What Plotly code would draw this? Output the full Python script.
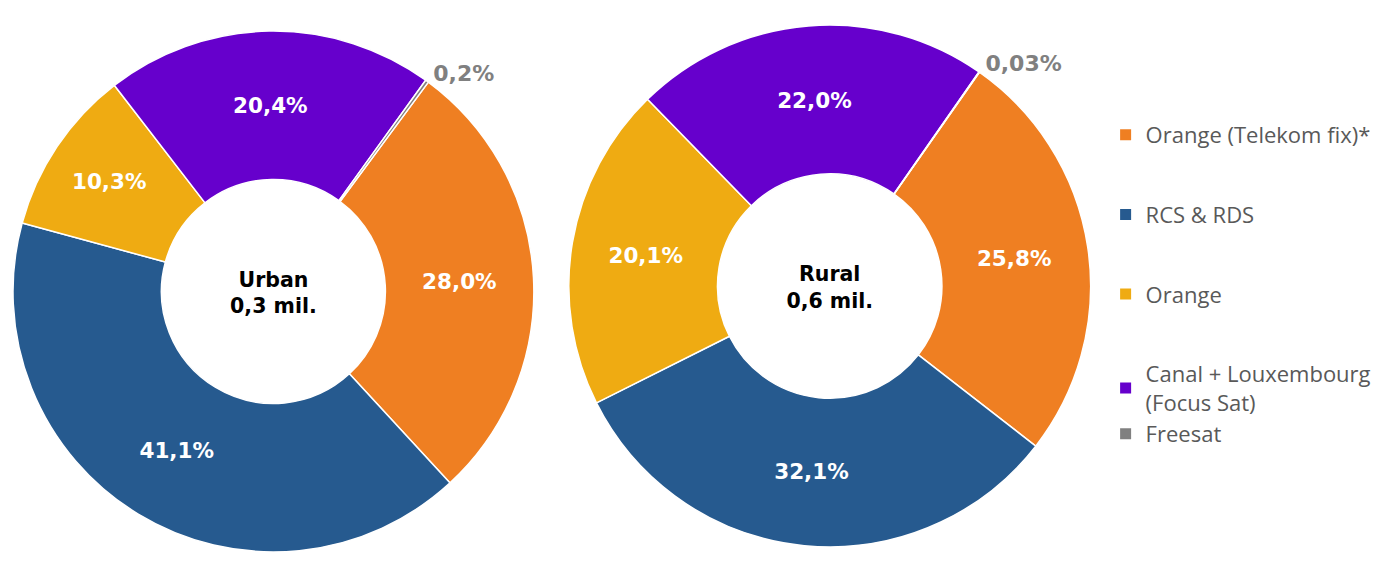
import plotly.graph_objects as go

labels = ["Orange (Telekom fix)*", "RCS & RDS", "Orange", "Canal + Louxembourg<br>(Focus Sat)", "Freesat"]
colors = ["#EF7F22", "#265A8F", "#EFAB12", "#6600CC", "#808080"]
urban_values = [28.0, 41.1, 10.3, 20.4, 0.2]
urban_text = ["28,0%", "41,1%", "10,3%", "20,4%", "0,2%"]
rural_values = [25.8, 32.1, 20.1, 22.0, 0.03]
rural_text = ["25,8%", "32,1%", "20,1%", "22,0%", "0,03%"]
urban_title = "Urban<br>0,3 mil."
rural_title = "Rural<br>0,6 mil."
legend_groups = ["g1", "g2", "g3", "g4", "g4"]

W, H = 1380, 564
fig = go.Figure()

positions = ["inside", "inside", "inside", "inside", "outside"]

def add_pie(values, text, title, domain, rotation):
    fig.add_trace(go.Pie(
        labels=labels, values=values, text=text,
        texttemplate="%{text}", textinfo="text",
        textposition=positions,
        insidetextorientation="horizontal",
        insidetextfont=dict(family="DejaVu Sans", size=21.5, color="white", weight="bold"),
        outsidetextfont=dict(family="DejaVu Sans", size=22, color="#808080", weight="bold"),
        marker=dict(colors=colors, line=dict(color="white", width=1.5)),
        hole=0.43, sort=False, direction="clockwise", rotation=rotation,
        domain=domain, showlegend=False,
        title=dict(text=title, position="middle center",
                   font=dict(family="DejaVu Sans", size=20.5, color="black", weight="bold")),
        hoverinfo="label+text",
    ))

dx, dy = 8, 8
add_pie(urban_values, urban_text, urban_title,
        dict(x=[(10 - dx) / W, (532 - dx) / W], y=[(H - 553 + dy) / H, (H - 30 + dy) / H]), 36.5)
add_pie(rural_values, rural_text, rural_title,
        dict(x=[(567 - dx) / W, (1090 - dx) / W], y=[(H - 550 + dy) / H, (H - 22 + dy) / H]), 35)

# legend entries
for lab, col, grp in zip(labels, colors, legend_groups):
    fig.add_trace(go.Scatter(
        x=[None], y=[None], mode="markers", name=lab, legendgroup=grp,
        marker=dict(symbol="square", size=11, color=col),
        showlegend=True, hoverinfo="skip",
    ))

fig.update_layout(
    width=W, height=H,
    margin=dict(l=0, r=0, t=0, b=0),
    paper_bgcolor="white", plot_bgcolor="white",
    xaxis=dict(visible=False), yaxis=dict(visible=False),
    legend=dict(
        x=1097 / W, y=1 - 106 / H, xanchor="left", yanchor="top",
        font=dict(family="Open Sans", size=22, color="#595959"),
        tracegroupgap=48, itemwidth=30, bgcolor="rgba(0,0,0,0)",
    ),
)

fig.write_html("out.html")
